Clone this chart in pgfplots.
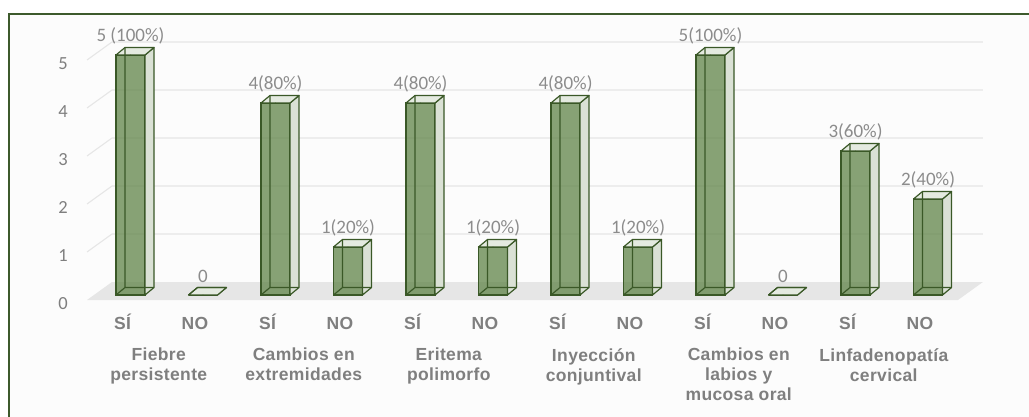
\documentclass[border=0pt]{standalone}
\usepackage{fontspec}
\usepackage{pgfplots}
\usepackage{pgfplotstable}
\pgfplotsset{compat=1.18}
\newfontfamily\numfont{Carlito}
\newfontfamily\catfont[LetterSpace=2]{Liberation Sans}
\definecolor{frame}{HTML}{3D5A2C}
\definecolor{bg}{HTML}{FCFCFC}
\definecolor{barfront}{HTML}{608448}
\definecolor{baredge}{HTML}{3A5827}
\definecolor{sidefill}{HTML}{DAE1D5}
\definecolor{topfill}{HTML}{E4EAE0}
\definecolor{floor}{HTML}{E6E6E6}
\definecolor{grid}{HTML}{E6E6E6}
\definecolor{txt}{HTML}{7F7F7F}
\definecolor{vtxt}{HTML}{8C8C8C}

\pgfplotstableread[col sep=comma]{
x,y,lab
0,5,5 (100\%)
1,0,0
2,4,4(80\%)
3,1,1(20\%)
4,4,4(80\%)
5,1,1(20\%)
6,4,4(80\%)
7,1,1(20\%)
8,5,5(100\%)
9,0,0
10,3,3(60\%)
11,2,2(40\%)
}\datatable

\tikzset{grouplab/.style={anchor=north, inner sep=0pt, align=center, text=txt,
    font=\catfont\bfseries\fontsize{17.5bp}{20bp}\selectfont, xshift=-8bp, yshift=-53bp}}

% draws side face, top face and hidden edges of a box of height \H
\newcommand\boxdeco{%
  \begin{pgfscope}
    \pgfsetlinewidth{1.2bp}\pgfsetroundjoin
    \pgfsetstrokecolor{baredge}
    \pgfsetfillcolor{sidefill}
    \pgfpathmoveto{\pgfpoint{14.5bp}{0bp}}
    \pgfpathlineto{\pgfpoint{23.5bp}{7.5bp}}
    \pgfpathlineto{\pgfpoint{23.5bp}{7.5bp-\H}}
    \pgfpathlineto{\pgfpoint{14.5bp}{-\H}}
    \pgfpathclose
    \pgfusepath{fill,stroke}
    \pgfsetfillcolor{topfill}
    \pgfpathmoveto{\pgfpoint{-14.5bp}{0bp}}
    \pgfpathlineto{\pgfpoint{-5.5bp}{7.5bp}}
    \pgfpathlineto{\pgfpoint{23.5bp}{7.5bp}}
    \pgfpathlineto{\pgfpoint{14.5bp}{0bp}}
    \pgfpathclose
    \pgfusepath{fill,stroke}
    \pgfsetlinewidth{1.2bp}
    \pgfpathmoveto{\pgfpoint{-5.5bp}{7.5bp}}
    \pgfpathlineto{\pgfpoint{-5.5bp}{7.5bp-\H}}
    \pgfpathlineto{\pgfpoint{23.5bp}{7.5bp-\H}}
    \pgfpathmoveto{\pgfpoint{-14.5bp}{-\H}}
    \pgfpathlineto{\pgfpoint{-5.5bp}{7.5bp-\H}}
    \pgfusepath{stroke}
  \end{pgfscope}%
}

\begin{document}
\begin{tikzpicture}
\useasboundingbox (0,0) rectangle (1029bp,417bp);
\fill[white] (0,0) rectangle (1029bp,417bp);
\fill[bg] (9bp,0) rectangle (1029bp,403bp);
\draw[frame, line width=2.2bp] (9bp,0) -- (9bp,403bp) -- (1029bp,403bp);
\begin{axis}[
  at={(130.5bp,122bp)}, anchor=origin,
  x=72.5bp, y=48bp,
  xmin=-0.6, xmax=11.8, ymin=-0.2, ymax=5.5,
  clip=false,
  axis line style={draw=none},
  tick style={draw=none},
  major tick length=0pt,
  ytick={0,1,2,3,4,5},
  xtick={0,1,...,11},
  xticklabels={SÍ,NO,SÍ,NO,SÍ,NO,SÍ,NO,SÍ,NO,SÍ,NO},
  /pgf/number format/assume math mode=true,
  yticklabel style={font=\numfont\fontsize{18.5bp}{20bp}\selectfont, text=txt, anchor=center, xshift=-24bp, yshift=-8.5bp},
  xticklabel style={font=\catfont\bfseries\fontsize{17.5bp}{20bp}\selectfont, text=txt, anchor=base, xshift=-8bp, yshift=-24.4bp},
]
% floor
\fill[floor] (axis cs:-0.6,-0.1042) -- (axis cs:11.413,-0.1042) -- (axis cs:11.758,0.2708) -- (axis cs:-0.2552,0.2708) -- cycle;
% grid lines
\pgfplotsinvokeforeach{1,2,3,4,5}{
  \draw[grid, line width=1.1bp] (axis cs:-0.6,#1-0.1042) -- (axis cs:-0.2552,#1+0.2708) -- (axis cs:11.758,#1+0.2708);
}
% 3D faces and back edges
\addplot[scatter, only marks, mark=*, mark size=0.01pt, draw=baredge, fill=baredge,
  visualization depends on={rawy \as \h},
  scatter/@pre marker code/.code={%
    \pgfmathsetlengthmacro\H{\h*48bp}%
    \boxdeco
  },
  scatter/@post marker code/.code={}]
  table[x=x, y=y] {\datatable};
% front faces (semi-transparent, hidden edges show through)
\addplot[ybar, bar width=29bp, fill=barfront, fill opacity=0.75, draw=baredge, line width=1.2bp,
  nodes near coords, point meta=explicit symbolic,
  every node near coord/.append style={font=\numfont\fontsize{19bp}{20bp}\selectfont, text=vtxt, text opacity=1, fill opacity=1, anchor=center, yshift=19bp}]
  table[x=x, y=y, meta=lab] {\datatable};
% group labels
\node[grouplab] at (axis cs:0.5,0) {Fiebre\\persistente};
\node[grouplab] at (axis cs:2.5,0) {Cambios en\\extremidades};
\node[grouplab] at (axis cs:4.5,0) {Eritema\\polimorfo};
\node[grouplab] at (axis cs:6.5,0) {Inyección\\conjuntival};
\node[grouplab] at (axis cs:8.5,0) {Cambios en\\labios y\\mucosa oral};
\node[grouplab] at (axis cs:10.5,0) {Linfadenopatía\\cervical};
\end{axis}
\end{tikzpicture}
\end{document}
